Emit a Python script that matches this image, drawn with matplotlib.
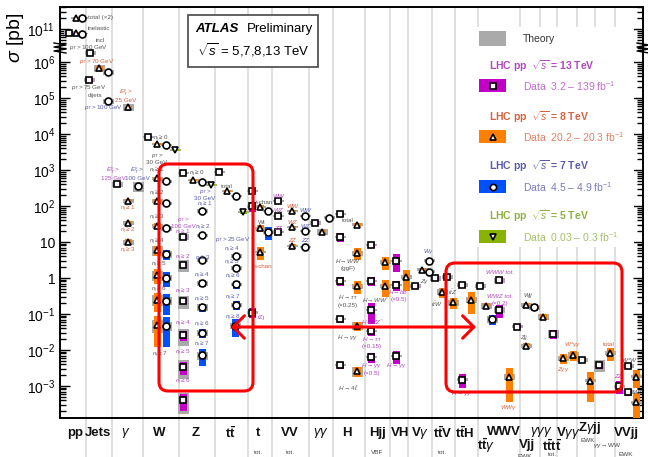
import numpy as np
import matplotlib
matplotlib.use("Agg")
import matplotlib.pyplot as plt
from matplotlib.patches import FancyBboxPatch, Rectangle
from matplotlib.ticker import FixedLocator, FixedFormatter, NullFormatter

plt.rcParams['font.family'] = ['Liberation Sans', 'DejaVu Sans']
plt.rcParams['mathtext.fontset'] = 'custom'
plt.rcParams['mathtext.rm'] = 'Liberation Sans'
plt.rcParams['mathtext.it'] = 'Liberation Sans:italic'
plt.rcParams['mathtext.bf'] = 'Liberation Sans:bold'

# ---------------- data (x = column position, values in pb) ----------------
# 13 TeV (squares)
x13 = [69, 90, 89, 117, 148, 183, 183, 183, 183, 183, 183, 183, 219, 252, 252, 252,
       278, 278, 278, 315, 340, 340, 340, 340, 340, 371, 371, 371, 371, 371, 396, 396, 396,
       415, 435, 447, 462, 462, 480, 499, 499, 517, 553, 582, 599, 619, 628, 628]
y13 = [7.8e10, 1.8e6, 3.2e5, 410, 8300, 830, 13.8, 2.3, 0.23, 0.026, 0.0034, 4.1e-4, 880, 260, 100, 0.11,
       138, 53, 19, 34, 60, 14, 0.83, 0.072, 0.0038, 8.3, 0.83, 0.13, 0.034, 0.0064, 3.0, 0.64, 0.0068,
       0.6, 1.0, 1.07, 0.64, 0.0015, 0.6, 0.88, 0.13, 0.044, 0.028, 0.0053, 0.0038, 0.001, 0.0036, 6.8e-4]
e13 = [0.05, 0.1, 0.1, 0.1, 0.05, 0.05, 0.1, 0.15, 0.2, 0.3, 0.4, 0.5, 0.05, 0.1, 0.3, 0.3,
       0.1, 0.1, 0.1, 0.1, 0.15, 0.3, 0.3, 0.2, 0.2, 0.2, 0.3, 0.6, 0.3, 0.3, 0.5, 0.3, 0.4,
       0.1, 0.15, 0.1, 0.2, 0.4, 0.1, 0.2, 0.4, 0.1, 0.3, 0.1, 0.2, 0.4, 0.15, 0.25]
t13 = [0.1, 0.15, 0.15, 0.15, 0.05, 0.05, 0.2, 0.35, 0.4, 0.5, 0.55, 0.6, 0.05, 0.05, 0.1, 0.1,
       0.05, 0.05, 0.05, 0.1, 0.05, 0.05, 0.05, 0.05, 0.05, 0.05, 0.05, 0.05, 0.05, 0.05, 0.05, 0.05, 0.05,
       0.1, 0.15, 0.1, 0.1, 0.1, 0.1, 0.15, 0.2, 0.1, 0.25, 0.1, 0.35, 0.1, 0.1, 0.1]

# 8 TeV (triangles up)
x8 = [76, 76, 99, 128, 128, 128, 128, 157, 157, 157, 157, 157, 157, 157, 157,
      193, 227, 260, 260, 260, 292, 292, 292, 322, 357, 357, 357, 357, 357,
      385, 385, 406, 422, 442, 453, 471, 486, 509, 526, 526, 543, 563, 573, 590, 610, 636, 636]
y8 = [2.0e11, 7.7e10, 6.8e5, 5.6e4, 138, 34, 10, 5300, 600, 138, 28, 6.0, 1.2, 0.25, 0.049,
      530, 260, 94, 24, 5.3, 72, 26, 7.7, 19, 30, 4.9, 0.6, 0.047, 0.0026,
      2.8, 0.6, 1.07, 1.7, 0.41, 0.21, 0.25, 0.17, 0.0018, 0.18, 0.013, 0.083, 0.006, 0.0072, 0.0014, 0.0083,
      0.0018, 3.6e-4]
e8 = [0.05, 0.05, 0.15, 0.1, 0.15, 0.15, 0.2, 0.05, 0.1, 0.1, 0.2, 0.3, 0.45, 0.55, 0.75,
      0.05, 0.05, 0.1, 0.2, 0.4, 0.1, 0.1, 0.15, 0.1, 0.15, 0.35, 0.4, 0.3, 0.3,
      0.4, 0.5, 0.6, 0.1, 0.3, 0.35, 0.6, 0.2, 0.8, 0.15, 0.2, 0.2, 0.3, 0.3, 0.75, 0.4, 0.5, 0.8]
t8 = [0.05, 0.05, 0.2, 0.2, 0.1, 0.1, 0.15, 0.05, 0.1, 0.1, 0.15, 0.3, 0.3, 0.35, 0.4,
      0.05, 0.05, 0.05, 0.1, 0.05, 0.05, 0.05, 0.05, 0.2, 0.1, 0.15, 0.15, 0.25, 0.3,
      0.1, 0.1, 0.1, 0.1, 0.2, 0.2, 0.2, 0.2, 0.2, 0.15, 0.1, 0.2, 0.15, 0.2, 0.1, 0.15, 0.1, 0.1]

# 7 TeV (circles)
x7 = [82, 82, 108, 108, 138, 166, 166, 166, 166, 166, 166, 166, 166,
      202, 202, 202, 202, 202, 202, 202, 202, 236, 236, 236, 236, 236, 235,
      268, 268, 305, 305, 305, 329, 429, 429, 492, 534]
y7 = [2.0e11, 7.5e10, 5.3e5, 8.3e4, 360, 4900, 490, 120, 24, 4.6, 1.0, 0.23, 0.047,
      465, 73, 15.5, 3.2, 0.72, 0.155, 0.03, 0.0072, 190, 4.1, 1.9, 0.68, 0.18, 0.047,
      73, 19, 52, 20, 7.3, 47, 3.0, 1.5, 0.072, 0.155]
e7 = [0.05, 0.05, 0.1, 0.1, 0.1, 0.05, 0.1, 0.1, 0.15, 0.3, 0.45, 0.6, 0.75,
      0.05, 0.1, 0.1, 0.15, 0.2, 0.25, 0.3, 0.5, 0.05, 0.15, 0.2, 0.25, 0.3, 0.5,
      0.1, 0.4, 0.1, 0.15, 0.15, 0.1, 0.1, 0.1, 0.3, 0.2]
t7 = [0.05, 0.05, 0.15, 0.15, 0.3, 0.05, 0.1, 0.1, 0.15, 0.2, 0.2, 0.25, 0.3,
      0.05, 0.1, 0.1, 0.15, 0.15, 0.2, 0.2, 0.25, 0.05, 0.1, 0.1, 0.1, 0.15, 0.2,
      0.05, 0.1, 0.05, 0.05, 0.05, 0.1, 0.1, 0.1, 0.2, 0.15]

# 5 TeV (triangles down)
x5 = [175, 211, 243]
y5 = [3600, 380, 68]
e5 = [0.05, 0.05, 0.1]
t5 = [0.05, 0.05, 0.05]

# category labels
cat_text = ["pp", "Jets", r"$\gamma$", "W", "Z", r"$\mathbf{t\bar{t}}$", "t", "VV", r"$\gamma\gamma$", "H",
            "Hjj", "VH", r"V$\gamma$", r"$\mathbf{t\bar{t}}$V", r"$\mathbf{t\bar{t}}$H", "WWV",
            r"$\mathbf{t\bar{t}}\gamma$", r"$\gamma\gamma\gamma$", "Vjj", r"$\mathbf{t\bar{t}t\bar{t}}$",
            r"V$\gamma\gamma$", r"Z$\gamma$jj", "VVjj"]
cat_x = [75, 98, 126, 159, 196, 231, 258, 290, 321, 347, 377, 400, 420, 443, 465, 504,
         486, 541, 527, 552, 568, 590, 626]
cat_y = [433, 433, 433, 433, 433, 433, 433, 433, 433, 433, 433, 433, 433, 433, 433, 432,
         446, 432, 445, 446, 433, 428, 433]
sub_text = ["tot.", "tot.", "VBF", "tot.", "tot.", "EWK", r"$\gamma\gamma\to$WW", "EWK", "EWK"]
sub_x = [258, 290, 377, 442, 552, 588, 607, 626, 525]
sub_y = [452, 452, 452, 452, 454, 441, 446, 454, 456]

grid_x = [85.5, 112, 143, 179, 215, 248, 272, 309, 333, 365, 390, 408, 432, 455, 478,
          520, 540, 557, 577, 595, 615]

# ---------------- styling ----------------
C13, C8, C7, C5 = '#c400c8', '#ff8000', '#0050ff', '#88b400'
CTH = '#aaaaaa'
T13, T8, T7, T5, TG = '#b048c0', '#d8603c', '#5a5ab0', '#8fb040', '#555555'

W, H = 648, 457
L, R, T, B = 60, 643, 7, 418
fig = plt.figure(figsize=(W / 100, H / 100), dpi=100)
ax = fig.add_axes([L / W, 1 - B / H, (R - L) / W, (B - T) / H])
ax.set_xlim(L, R)

SHIFT, BRK = 4.083, 6.39


def fwd(v):
    v = np.asarray(v, dtype=float)
    lv = np.log10(np.where(v > 0, v, 1e-300))
    return np.where(lv > 8, lv - SHIFT, lv)


def inv(y):
    y = np.asarray(y, dtype=float)
    return np.where(y > BRK, 10.0 ** (np.minimum(y, 50) + SHIFT), 10.0 ** np.minimum(y, 50))


ax.set_yscale('function', functions=(fwd, inv))
ax.set_ylim(float(inv(-3.89)), float(inv(7.53)))

major = [1e-3, 1e-2, 1e-1, 1, 10, 1e2, 1e3, 1e4, 1e5, 1e6, 1e11]
major_lab = [r'$10^{-3}$', r'$10^{-2}$', r'$10^{-1}$', '1', '10', r'$10^{2}$', r'$10^{3}$',
             r'$10^{4}$', r'$10^{5}$', r'$10^{6}$', r'$10^{11}$']
minor = [m * 10.0 ** k for k in range(-4, 6) for m in range(2, 10) if 1.3e-4 < m * 10.0 ** k < 2.4e6]
minor += [m * 1e10 for m in range(3, 10)] + [2e11, 3e11, 4e11]
ax.yaxis.set_major_locator(FixedLocator(major))
ax.yaxis.set_major_formatter(FixedFormatter(major_lab))
ax.yaxis.set_minor_locator(FixedLocator(minor))
ax.yaxis.set_minor_formatter(NullFormatter())
ax.tick_params(axis='y', which='both', direction='in', left=True, right=True, labelsize=10, width=1)
ax.tick_params(axis='y', which='major', length=7)
ax.tick_params(axis='y', which='minor', length=4)
ax.set_xticks([])
for s in ax.spines.values():
    s.set_linewidth(1.4)

# vertical separators (extend below the axis into the label area)
xt = ax.get_xaxis_transform()
for gx in grid_x:
    ax.plot([gx, gx], [-(H - B) / (B - T), 1], transform=xt, color='#dcdcdc', lw=1.3,
            zorder=0.5, clip_on=False)


def draw_set(xs, ys, es, ts, col, marker):
    xs = np.asarray(xs, float); ys = np.asarray(ys, float)
    es = np.asarray(es, float); ts = np.asarray(ts, float)
    tlo, thi = ys * (1 - ts), ys * (1 + ts)
    ax.bar(xs, thi - tlo, bottom=tlo, width=11, color=CTH, zorder=2, linewidth=0)
    dlo, dhi = ys * (1 - es), ys * (1 + es)
    ax.bar(xs, dhi - dlo, bottom=dlo, width=7, color=col, zorder=3, linewidth=0)
    ax.plot(xs, ys, ls='none', marker=marker, mfc='white', mec='black', ms=5, mew=1.2, zorder=4)


draw_set(x13, y13, e13, t13, C13, 's')
draw_set(x8, y8, e8, t8, C8, '^')
draw_set(x7, y7, e7, t7, C7, 'o')
draw_set(x5, y5, e5, t5, C5, 'v')

# ---------------- overlay in pixel coordinates ----------------
ov = fig.add_axes([0, 0, 1, 1])
ov.set_xlim(0, W)
ov.set_ylim(H, 0)
ov.axis('off')

ov.text(16, 38, r'$\sigma$ [pb]', rotation=90, ha='center', va='center', fontsize=14)

# break marks
for bx in (L, R):
    ov.plot([bx - 6, bx + 6, bx - 6, bx + 6, bx - 6, bx + 6], [43, 45, 47, 49, 51, 53],
            color='black', lw=1.0, clip_on=False)

# category labels
for t, x, y in zip(cat_text, cat_x, cat_y):
    ov.text(x, y, t, ha='center', va='center', fontsize=9.5, fontweight='bold', color='#111111')
for t, x, y in zip(sub_text, sub_x, sub_y):
    ov.text(x, y, t, ha='center', va='center', fontsize=4.6, color='#444444')

# ATLAS box
ov.add_patch(Rectangle((188, 15), 130, 52, fc='white', ec='#555555', lw=1.3, zorder=5))
ov.text(195, 29, 'ATLAS', fontsize=9.5, fontweight='bold', style='italic', va='center', zorder=6)
ov.text(247, 29, 'Preliminary', fontsize=9.5, va='center', zorder=6)
ov.text(253, 50, r'$\sqrt{s}$ = 5,7,8,13 TeV', fontsize=9.5, ha='center', va='center', zorder=6)

# legend
ov.add_patch(Rectangle((460, 27), 174, 220, fc='white', ec='none', zorder=1))
ov.add_patch(Rectangle((479, 31), 27, 15, fc=CTH, ec='none', zorder=2))
ov.text(523, 39, 'Theory', fontsize=7.5, va='center', color='#333333', zorder=3)
leg = [(66, 79, '13', 'Data  3.2 – 139 fb$^{-1}$', C13, T13, 's'),
       (117, 130, '8', 'Data  20.2 – 20.3 fb$^{-1}$', C8, T8, '^'),
       (166, 180, '7', 'Data  4.5 – 4.9 fb$^{-1}$', C7, T7, 'o'),
       (216, 230, '5', 'Data  0.03 – 0.3 fb$^{-1}$', C5, T5, 'v')]
for ty, ry, en, dtxt, col, tcol, mk in leg:
    ov.text(489, ty, r'LHC pp  $\sqrt{s}$ = ' + en + ' TeV', fontsize=7.5, fontweight='bold',
            color=tcol, va='center', zorder=3)
    ov.add_patch(Rectangle((479, ry), 27, 13, fc=col, ec='none', zorder=2))
    ov.plot([492.5], [ry + 6.5], marker=mk, mfc='white', mec='black', ms=4.5, mew=1.2, zorder=3)
    ov.text(523, ry + 7, dtxt, fontsize=7.5, color=tcol, alpha=0.8, va='center', zorder=3)

# small annotations
nj = r'$n_j \geq $'
notes = [
    (88, 18, 'total (×2)', TG, 'left'), (88, 28, 'inelastic', TG, 'left'),
    (100, 41, 'incl', TG, 'center'), (88, 48, r'$p_T > 100$ GeV', TG, 'center'),
    (97, 62, r'$p_T > 70$ GeV', T8, 'center'), (89, 88, r'$p_T > 75$ GeV', TG, 'center'),
    (95, 95, 'dijets', TG, 'center'), (103, 108, r'$p_T > 100$ GeV', T7, 'center'),
    (126, 93, r'$E_T^{\gamma} >$', T8, 'center'), (126, 101, '25 GeV', T8, 'center'),
    (113, 171, r'$E_T^{\gamma} >$', T13, 'center'), (113, 179, '125 GeV', T13, 'center'),
    (137, 171, r'$E_T^{\gamma} >$', T7, 'center'), (137, 179, '100 GeV', T7, 'center'),
    (128, 209, nj + '1', T8, 'center'), (128, 231, nj + '2', T8, 'center'), (128, 251, nj + '3', T8, 'center'),
    (153, 139, nj + '0', TG, 'left'), (157, 156, r'$p_T >$', TG, 'center'), (157, 163, '30 GeV', TG, 'center'),
    (157, 171, nj + '1', TG, 'center'), (157, 194, nj + '2', TG, 'center'), (157, 218, nj + '3', TG, 'center'),
    (157, 242, nj + '4', TG, 'center'), (159, 265, nj + '5', TG, 'center'), (159, 290, nj + '6', TG, 'center'),
    (160, 355, nj + '7', TG, 'center'),
    (189, 174, nj + '0', TG, 'left'), (205, 191, r'$p_T >$', T7, 'center'), (205, 198, '30 GeV', T7, 'center'),
    (205, 205, nj + '1', T7, 'center'), (183, 219, r'$p_T >$', T13, 'center'), (183, 226, '100 GeV', T13, 'center'),
    (183, 233, nj + '1', T13, 'center'), (203, 228, nj + '2', T7, 'center'), (183, 258, nj + '2', T13, 'center'),
    (203, 259, nj + '3', T7, 'center'), (183, 292, nj + '3', T13, 'center'), (202, 276, nj + '4', T7, 'center'),
    (202, 300, nj + '5', T7, 'center'), (183, 324, nj + '4', T13, 'center'), (202, 325, nj + '6', T7, 'center'),
    (202, 345, nj + '7', T7, 'center'), (183, 353, nj + '5', T13, 'center'), (183, 382, nj + '6', T13, 'center'),
    (227, 186, 'total', TG, 'center'), (233, 240, r'$p_T > 25$ GeV', T7, 'center'),
    (232, 250, nj + '4', T7, 'center'), (232, 263, nj + '5', T7, 'center'), (233, 277, nj + '6', T7, 'center'),
    (233, 298, nj + '7', T7, 'center'), (233, 318, nj + '8', T7, 'center'),
    (264, 202, 't-chan', TG, 'center'), (262, 222, 'Wt', TG, 'center'), (263, 266, 's-chan', T8, 'center'),
    (258, 317, 'tZj', T13, 'left'),
    (278, 196, 'WW', T13, 'center'), (292, 206, 'WW', T8, 'center'), (305, 210, 'WW', T7, 'center'),
    (278, 211, 'WZ', T13, 'center'), (292, 223, 'WZ', T8, 'center'), (305, 226, 'WZ', T7, 'center'),
    (278, 228, 'ZZ', T13, 'center'), (292, 241, 'ZZ', T8, 'center'), (305, 241, 'ZZ', T7, 'center'),
    (348, 221, 'total', TG, 'center'), (348, 261, r'$H\!\to\!WW^{*}$', TG, 'center'), (348, 268.5, '(ggF)', TG, 'center'),
    (348, 297, r'$H \to \tau\tau$', TG, 'center'), (348, 305, '(×0.25)', TG, 'center'),
    (348, 337, r'$H \to \gamma\gamma$', TG, 'center'), (348, 387, r'$H \to 4\ell$', TG, 'center'),
    (375, 300, r'$H\!\to\!WW^{*}$', TG, 'center'), (372, 322, r'$H\!\to\!ZZ^{*}$', T13, 'center'),
    (372, 339, r'$H \to \tau\tau$', T13, 'center'), (372, 346.5, '(×0.15)', T13, 'center'),
    (372, 365, r'$H \to \gamma\gamma$', T13, 'center'), (372, 373, '(×0.5)', T13, 'center'),
    (398, 292, r'$H\!\to\!bb$', T13, 'center'), (399, 299.5, '(×0.5)', T13, 'center'),
    (397, 365, r'$H \to \gamma\gamma$', T13, 'center'),
    (429, 252, r'$W\gamma$', T7, 'center'), (425, 281, r'$Z\gamma$', TG, 'center'),
    (437, 304, r'$t\bar{t}W$', TG, 'center'), (453, 292, r'$t\bar{t}Z$', TG, 'center'),
    (462, 393, r'$H \to \gamma\gamma$', T13, 'center'),
    (500, 273, 'WWW tot.', T13, 'center'), (500, 296, 'WWZ tot.', T13, 'center'), (500, 303, '(×0.2)', T13, 'center'),
    (509, 407, r'$WW\gamma$', T8, 'center'),
    (528, 296, 'Wjj', TG, 'center'), (523, 337, 'Zjj', TG, 'center'),
    (563, 369, r'$Z\gamma\gamma$', T8, 'center'), (573, 345, r'$W^{\pm}\gamma\gamma$', T8, 'center'),
    (609, 345, 'total', T8, 'center'),
    (631, 361, r'$W^{\pm}W^{\pm}$', TG, 'center'), (618, 376, 'ZZ', T13, 'center'), (637, 392, 'WZ', TG, 'center'),
]
ital = ('WW', 'WZ', 'ZZ', 'Wjj', 'Zjj', 'WWW tot.', 'WWZ tot.')
for x, y, t, c, ha in notes:
    ov.text(x, y, t, fontsize=4.5, color=c, ha=ha, va='center',
            style='italic' if t in ital else 'normal')

# red highlight boxes and arrow
ov.add_patch(FancyBboxPatch((159, 164), 94, 227, boxstyle='round,pad=0,rounding_size=9',
                            fc='none', ec='#ff0000', lw=2.2, zorder=7))
ov.add_patch(FancyBboxPatch((446, 263), 176, 129, boxstyle='round,pad=0,rounding_size=9',
                            fc='none', ec='#ff0000', lw=2.2, zorder=7))
ov.annotate('', xy=(476, 327), xytext=(231, 327),
            arrowprops=dict(arrowstyle='<->,head_length=0.45,head_width=0.45', color='#ff0000',
                            lw=2.2, shrinkA=0, shrinkB=0, mutation_scale=18), zorder=7)

fig.savefig('out.png', dpi=100)
